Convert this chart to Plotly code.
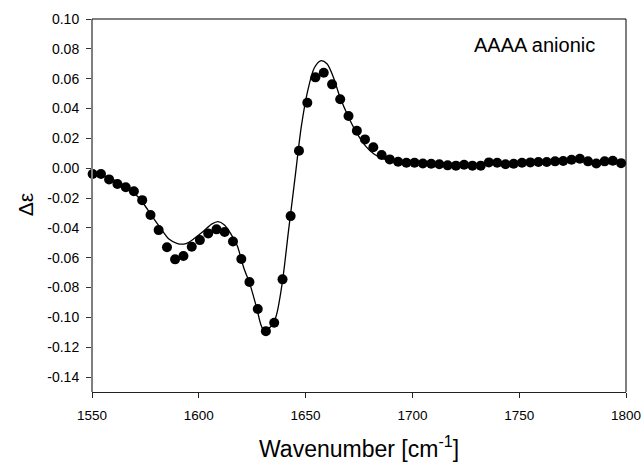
import plotly.graph_objects as go

# Measured data points (wavenumber, delta epsilon)
wn_pts = [1550.3, 1554.2, 1558.0, 1561.9, 1565.8, 1569.6, 1573.5, 1577.4, 1581.2, 1585.1,
          1588.9, 1592.8, 1596.7, 1600.5, 1604.4, 1608.3, 1612.1, 1616.0, 1619.9, 1623.7,
          1627.6, 1631.4, 1635.3, 1639.2, 1643.0, 1646.9, 1650.8, 1654.6, 1658.5, 1662.4,
          1666.2, 1670.1, 1674.0, 1677.8, 1681.7, 1685.6, 1689.4, 1693.3, 1697.2, 1701.0,
          1704.9, 1708.8, 1712.6, 1716.5, 1720.4, 1724.2, 1728.1, 1732.0, 1735.8, 1739.7,
          1743.6, 1747.4, 1751.3, 1755.2, 1759.0, 1762.9, 1766.8, 1770.6, 1774.5, 1778.4,
          1782.2, 1786.1, 1790.0, 1793.8, 1797.7]
de_pts = [-0.0039, -0.0039, -0.0075, -0.0106, -0.0128, -0.0155, -0.0214, -0.0314, -0.0415, -0.0530,
          -0.0611, -0.0589, -0.0527, -0.0482, -0.0437, -0.0410, -0.0428, -0.0491, -0.0609, -0.0763,
          -0.0944, -0.1092, -0.1036, -0.0745, -0.0321, 0.0117, 0.0439, 0.0609, 0.0640, 0.0562,
          0.0462, 0.0350, 0.0251, 0.0193, 0.0140, 0.0088, 0.0059, 0.0043, 0.0036, 0.0036,
          0.0032, 0.0030, 0.0026, 0.0019, 0.0017, 0.0023, 0.0017, 0.0017, 0.0039, 0.0036,
          0.0026, 0.0030, 0.0036, 0.0039, 0.0041, 0.0041, 0.0046, 0.0048, 0.0057, 0.0063,
          0.0046, 0.0032, 0.0046, 0.0050, 0.0034]

# Calculated (fit) curve
wn_fit = [1550, 1554, 1558, 1562, 1566, 1570, 1574, 1578, 1582, 1586, 1590, 1594, 1598, 1602,
          1606, 1609, 1612, 1615, 1618, 1621, 1624, 1627, 1630, 1633, 1636, 1639, 1642, 1645,
          1648, 1651, 1654, 1657, 1660, 1663, 1666, 1670, 1674, 1678, 1682, 1686, 1690, 1695,
          1700, 1710, 1720, 1730, 1740, 1750, 1760, 1770, 1780, 1790, 1800]
de_fit = [-0.0035, -0.0045, -0.0065, -0.0090, -0.0125, -0.0170, -0.0235, -0.0320, -0.0400, -0.0475,
          -0.0505, -0.0505, -0.0470, -0.0425, -0.0375, -0.0358, -0.0380, -0.0440, -0.0520, -0.0665,
          -0.0780, -0.0930, -0.1075, -0.1070, -0.1000, -0.0775, -0.0420, -0.0070, 0.0280, 0.0520,
          0.0670, 0.0720, 0.0700, 0.0610, 0.0480, 0.0345, 0.0235, 0.0150, 0.0095, 0.0065,
          0.0048, 0.0038, 0.0033, 0.0028, 0.0022, 0.0024, 0.0030, 0.0036, 0.0042, 0.0050,
          0.0050, 0.0042, 0.0038]

x_ticks = [1550, 1600, 1650, 1700, 1750, 1800]
y_ticks = [0.10, 0.08, 0.06, 0.04, 0.02, 0.00, -0.02, -0.04, -0.06, -0.08, -0.10, -0.12, -0.14]
y_ticktext = ["%.2f" % v if v >= 0 else "-%.2f" % abs(v) for v in y_ticks]

FONT = "Liberation Sans, Arial, sans-serif"

fig = go.Figure()
fig.add_trace(go.Scatter(x=wn_fit, y=de_fit, mode="lines",
                         line=dict(color="black", width=1.3, shape="spline", smoothing=0.8),
                         cliponaxis=False, showlegend=False, hoverinfo="skip"))
fig.add_trace(go.Scatter(x=wn_pts, y=de_pts, mode="markers",
                         marker=dict(color="black", size=10, line=dict(width=0)),
                         cliponaxis=False, showlegend=False))

fig.update_layout(
    template="none",
    width=644, height=462,
    margin=dict(l=92, r=18, t=19, b=70, pad=0),
    paper_bgcolor="white", plot_bgcolor="white",
    font=dict(family=FONT, color="black", size=13),
    xaxis=dict(range=[1550, 1800], tickvals=x_ticks, ticks="outside", ticklen=5,
               tickcolor="#222", tickwidth=1, showline=True, linecolor="#222", linewidth=1,
               mirror=False, showgrid=False, zeroline=False, tickfont=dict(size=13.5),
               ticklabelstandoff=6, automargin=False),
    yaxis=dict(range=[-0.15, 0.10], tickvals=y_ticks, ticktext=y_ticktext,
               ticks="outside", ticklen=5, tickcolor="#333", tickwidth=1, showline=False,
               showgrid=False, zeroline=False, tickfont=dict(size=14),
               ticklabelstandoff=4, automargin=False),
    shapes=[
        dict(type="line", xref="paper", yref="paper", x0=0, x1=0, y0=0, y1=1,
             line=dict(color="#808080", width=2)),
        dict(type="line", xref="paper", yref="paper", x0=1, x1=1, y0=0, y1=1,
             line=dict(color="black", width=1)),
        dict(type="line", xref="paper", yref="paper", x0=0, x1=1, y0=1, y1=1,
             line=dict(color="black", width=1)),
    ],
    annotations=[
        dict(text="AAAA anionic", xref="paper", yref="paper", x=0.828, y=0.930,
             xanchor="center", yanchor="middle", showarrow=False,
             font=dict(size=20, family=FONT, color="black")),
        dict(text="Wavenumber [cm<sup>-1</sup>]", xref="paper", yref="paper", x=0.5, y=-0.1475,
             xanchor="center", yanchor="middle", showarrow=False,
             font=dict(size=23, family=FONT, color="black")),
        dict(text="Δε", xref="paper", yref="paper", x=-0.1255, y=0.503, textangle=-90,
             xanchor="center", yanchor="middle", showarrow=False,
             font=dict(size=21, family=FONT, color="black")),
    ],
)

fig.write_html("out.html")
